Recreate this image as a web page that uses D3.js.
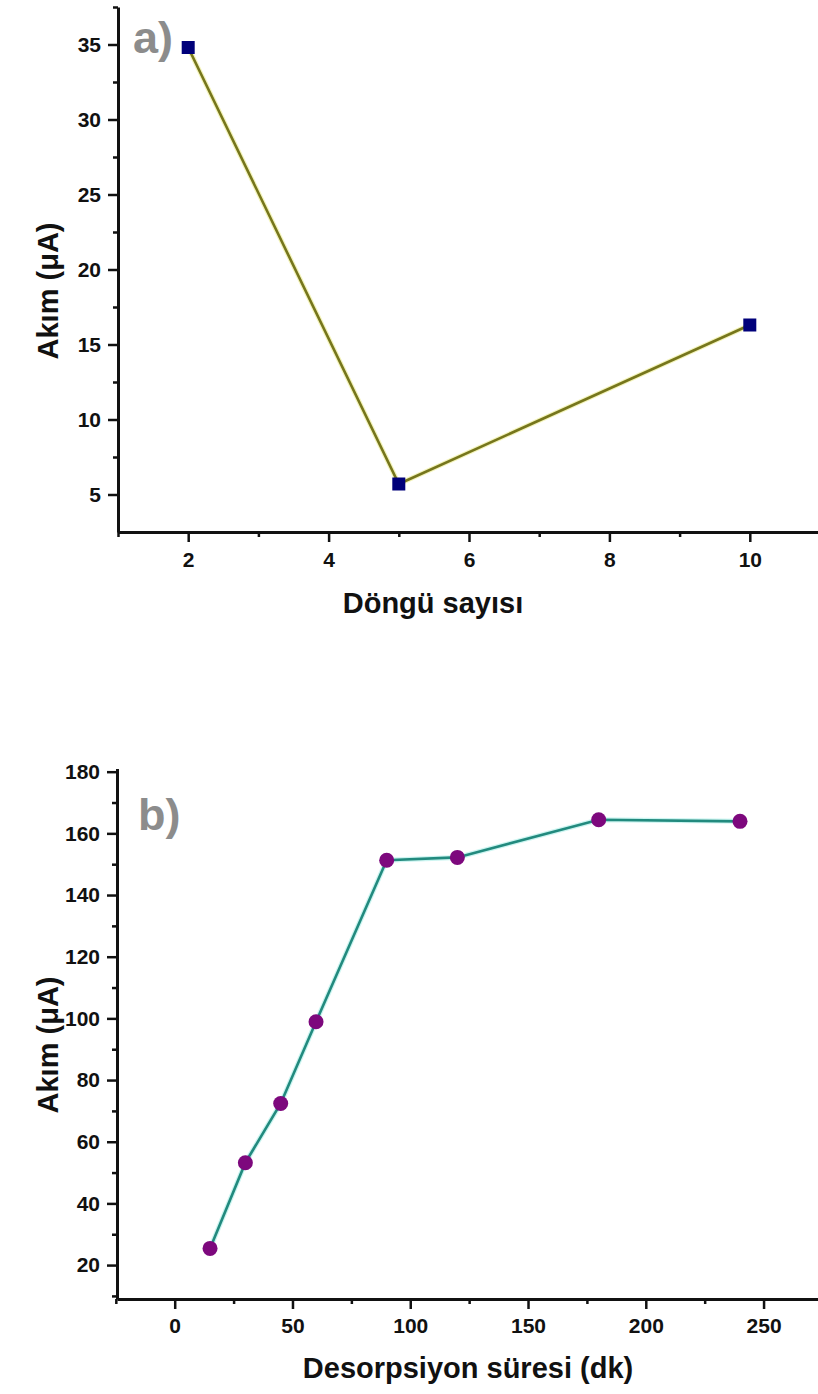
<!DOCTYPE html>
<html>
<head>
<meta charset="utf-8">
<script src="https://cdn.jsdelivr.net/npm/d3@7"></script>
<style>
  html, body { margin: 0; padding: 0; background: #fff; }
  svg { display: block; font-family: "Liberation Sans", Arial, sans-serif; }
  .tick text { font-weight: bold; fill: #111; }
  .axis path, .axis line { stroke: #111; }
</style>
</head>
<body>
<svg id="chart" width="818" height="1394"></svg>
<script>
// Panel a: current vs. number of cycles
const cycles = [2, 5, 10];
const currentA = [34.8, 5.7, 16.3];
const cycleTicks = [2, 4, 6, 8, 10];
const cycleMinorTicks = [1, 3, 5, 7, 9, 11];
const currentATicks = [5, 10, 15, 20, 25, 30, 35];
const currentAMinorTicks = [7.5, 12.5, 17.5, 22.5, 27.5, 32.5, 37.5];

// Panel b: current vs. desorption time
const desorptionTime = [15, 30, 45, 60, 90, 120, 180, 240];
const currentB = [25.4, 53.2, 72.4, 98.9, 151.3, 152.2, 164.4, 163.9];
const timeTicks = [0, 50, 100, 150, 200, 250];
const timeMinorTicks = [-25, 25, 75, 125, 175, 225, 275];
const currentBTicks = [20, 40, 60, 80, 100, 120, 140, 160, 180];
const currentBMinorTicks = [10, 30, 50, 70, 90, 110, 130, 150, 170];

const svg = d3.select("#chart");
const tickFont = 21;
const titleFont = 29;

function drawPanel(cfg) {
  const g = svg.append("g");
  const x = d3.scaleLinear().domain(cfg.xDomain).range(cfg.xRange);
  const y = d3.scaleLinear().domain(cfg.yDomain).range(cfg.yRange);

  // minor ticks (no labels)
  g.append("g").attr("class", "axis")
    .attr("transform", `translate(0,${cfg.yRange[0]})`)
    .call(d3.axisBottom(x).tickValues(cfg.xMinor).tickSize(5).tickFormat(""))
    .call(a => a.select(".domain").remove())
    .call(a => a.selectAll("line").attr("stroke-width", 2.5));
  g.append("g").attr("class", "axis")
    .attr("transform", `translate(${cfg.xRange[0]},0)`)
    .call(d3.axisLeft(y).tickValues(cfg.yMinor).tickSize(5).tickFormat(""))
    .call(a => a.select(".domain").remove())
    .call(a => a.selectAll("line").attr("stroke-width", 2.5));

  // major axes
  const xAxis = g.append("g").attr("class", "axis")
    .attr("transform", `translate(0,${cfg.yRange[0]})`)
    .call(d3.axisBottom(x).tickValues(cfg.xTicks).tickSize(10).tickSizeOuter(0).tickPadding(cfg.xPad));
  xAxis.select(".domain").attr("stroke-width", 3);
  xAxis.selectAll("line").attr("stroke-width", 2.5);
  xAxis.selectAll("text").attr("font-size", tickFont);

  const yAxis = g.append("g").attr("class", "axis")
    .attr("transform", `translate(${cfg.xRange[0]},0)`)
    .call(d3.axisLeft(y).tickValues(cfg.yTicks).tickSize(10).tickSizeOuter(0).tickPadding(7));
  yAxis.select(".domain").attr("stroke-width", 3);
  yAxis.selectAll("line").attr("stroke-width", 2.5);
  yAxis.selectAll("text").attr("font-size", tickFont);

  // data line
  const pts = cfg.xs.map((d, i) => [d, cfg.ys[i]]);
  const line = d3.line().x(d => x(d[0])).y(d => y(d[1]));
  g.append("path").datum(pts)
    .attr("d", line).attr("fill", "none")
    .attr("stroke", cfg.haloColor).attr("stroke-width", 5).attr("stroke-opacity", 0.45);
  g.append("path").datum(pts)
    .attr("d", line).attr("fill", "none")
    .attr("stroke", cfg.lineColor).attr("stroke-width", 2.6);

  // markers
  if (cfg.marker === "square") {
    const s = 13;
    g.selectAll("rect.pt").data(pts).join("rect")
      .attr("x", d => x(d[0]) - s / 2).attr("y", d => y(d[1]) - s / 2)
      .attr("width", s).attr("height", s)
      .attr("fill", cfg.markerColor);
  } else {
    g.selectAll("circle.pt").data(pts).join("circle")
      .attr("cx", d => x(d[0])).attr("cy", d => y(d[1]))
      .attr("r", 7.5).attr("fill", cfg.markerColor);
  }

  // axis titles
  g.append("text")
    .attr("x", cfg.xTitlePos[0]).attr("y", cfg.xTitlePos[1])
    .attr("text-anchor", "middle").attr("font-weight", "bold")
    .attr("font-size", titleFont).attr("fill", "#111")
    .text(cfg.xTitle);
  g.append("text")
    .attr("transform", `translate(${cfg.yTitlePos[0]},${cfg.yTitlePos[1]}) rotate(-90)`)
    .attr("text-anchor", "middle").attr("font-weight", "bold")
    .attr("font-size", titleFont).attr("fill", "#111")
    .text("Akım (μA)");

  // panel letter
  g.append("text")
    .attr("x", cfg.letterPos[0]).attr("y", cfg.letterPos[1])
    .attr("font-weight", "bold").attr("font-size", 45).attr("fill", "#8c8c8c")
    .text(cfg.letter);
}

drawPanel({
  xDomain: [1, 11], xRange: [118, 820],
  yDomain: [2.5, 37.5], yRange: [532, 7],
  xTicks: cycleTicks, xMinor: cycleMinorTicks,
  yTicks: currentATicks, yMinor: currentAMinorTicks,
  xPad: 10,
  xs: cycles, ys: currentA,
  lineColor: "#76761c", haloColor: "#e6e66a",
  marker: "square", markerColor: "#00007a",
  xTitle: "Döngü sayısı", xTitlePos: [433, 613],
  yTitlePos: [58, 291],
  letter: "a)", letterPos: [133, 53]
});

drawPanel({
  xDomain: [-24.5, 285], xRange: [117, 846],
  yDomain: [9, 181], yRange: [1299, 768.6],
  xTicks: timeTicks, xMinor: timeMinorTicks,
  yTicks: currentBTicks, yMinor: currentBMinorTicks,
  xPad: 9,
  xs: desorptionTime, ys: currentB,
  lineColor: "#228a7e", haloColor: "#8ee8e0",
  marker: "circle", markerColor: "#7d087d",
  xTitle: "Desorpsiyon süresi (dk)", xTitlePos: [468, 1378],
  yTitlePos: [58, 1045],
  letter: "b)", letterPos: [138, 830]
});
</script>
</body>
</html>
